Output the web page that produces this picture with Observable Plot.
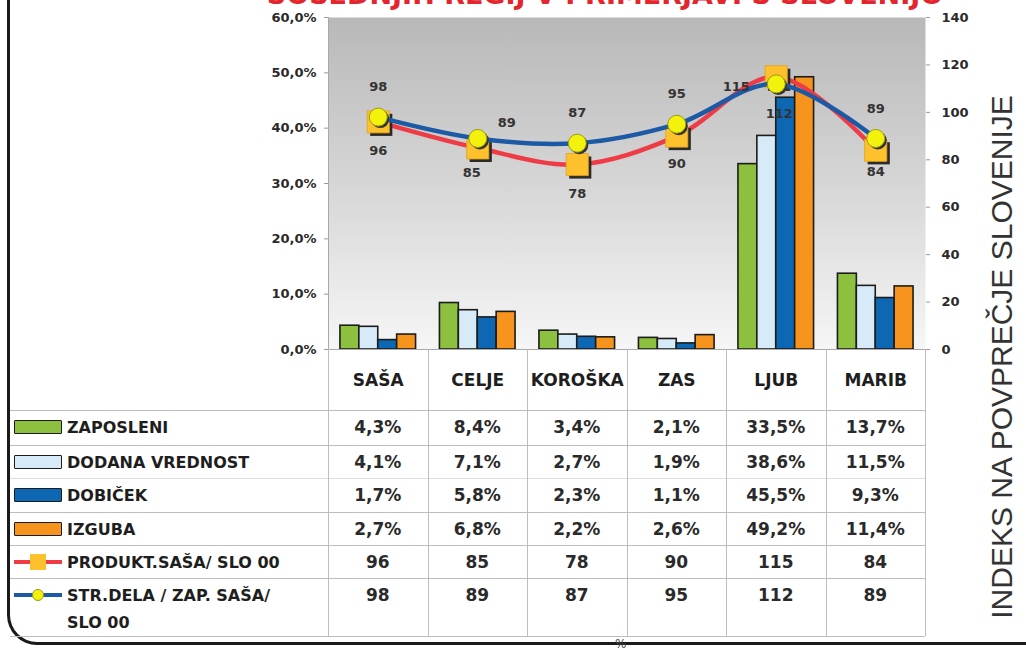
<!DOCTYPE html>
<html>
<head>
<meta charset="utf-8">
<script src="https://cdn.jsdelivr.net/npm/d3@7"></script>
<script src="https://cdn.jsdelivr.net/npm/@observablehq/plot@0.6"></script>
<style>
  html, body { margin: 0; padding: 0; background: #fff; }
  #wrap { position: relative; width: 1026px; height: 650px; overflow: hidden; font-family: "DejaVu Sans", sans-serif; }
  #wrap svg { position: absolute; left: 0; top: 0; }
  .abs { position: absolute; }
  .cell { position: absolute; text-align: center; font-weight: bold; font-size: 17px; color: #2a2a2a; line-height: 22px; white-space: nowrap; }
  .rowlab { position: absolute; font-weight: bold; font-size: 16px; color: #1e1e1e; line-height: 27px; white-space: nowrap; }
  .hline { position: absolute; height: 1px; background: #bdbdbd; }
  .vline { position: absolute; width: 1px; background: #bdbdbd; }
</style>
</head>
<body>
<div id="wrap"></div>
<script>
// ---------- DATA ----------
const categories = ["SAŠA", "CELJE", "KOROŠKA", "ZAS", "LJUB", "MARIB"];
const zaposleni      = [4.3, 8.4, 3.4, 2.1, 33.5, 13.7];
const dodanaVrednost = [4.1, 7.1, 2.7, 1.9, 38.6, 11.5];
const dobicek        = [1.7, 5.8, 2.3, 1.1, 45.5, 9.3];
const izguba         = [2.7, 6.8, 2.2, 2.6, 49.2, 11.4];
const produkt        = [96, 85, 78, 90, 115, 84];
const strDela        = [98, 89, 87, 95, 112, 89];
const leftTicks  = [0, 10, 20, 30, 40, 50, 60];
const rightTicks = [0, 20, 40, 60, 80, 100, 120, 140];
const barNames = ["ZAPOSLENI", "DODANA VREDNOST", "DOBIČEK", "IZGUBA"];
const lineNames = ["PRODUKT.SAŠA/ SLO 00", "STR.DELA / ZAP. SAŠA/|SLO 00"];
const titleText = "SOSEDNJIH REGIJ V PRIMERJAVI S SLOVENIJO";
const rightTitle = "INDEKS NA POVPREČJE SLOVENIJE";

// ---------- STYLES ----------
const barColors = ["#8dc03f", "#d6ebf7", "#0d67b3", "#f7941e"];
const redLine = "#ee3b45", blueLine = "#1d5aa6";
const squareFill = "#fcc12d", circleFill = "#f2f20c";
const font = "DejaVu Sans, sans-serif";

const barSeries = [zaposleni, dodanaVrednost, dobicek, izguba];
const k = 60 / 140; // right (index) axis mapped onto left (%) axis

const barData = [];
barSeries.forEach((vals, s) => vals.forEach((v, i) => barData.push({i, s, v})));
const redData = produkt.map((v, i) => ({i, v}));
const blueData = strDela.map((v, i) => ({i, v}));

const bw = 0.19;
// label placement (dx, dy) per category
const redNudge  = {"SAŠA": [0, 29], "CELJE": [-6, 25], "KOROŠKA": [0, 29], "ZAS": [0, 28], "LJUB": [-40, 10], "MARIB": [0, 22]};
const blueNudge = {"SAŠA": [0, -30], "CELJE": [29, -16], "KOROŠKA": [0, -30], "ZAS": [0, -30], "LJUB": [3, 30], "MARIB": [0, -30]};

const fmtPct = v => v.toFixed(1).replace(".", ",") + "%";

const labelMarks = [];
categories.forEach((c, i) => {
  labelMarks.push(Plot.text([redData[i]], {x: "i", y: d => d.v * k, text: d => String(d.v), dx: redNudge[c][0], dy: redNudge[c][1],
    fontSize: 13, fontWeight: "bold", fill: "#333", fontFamily: font}));
  labelMarks.push(Plot.text([blueData[i]], {x: "i", y: d => d.v * k, text: d => String(d.v), dx: blueNudge[c][0], dy: blueNudge[c][1],
    fontSize: 13, fontWeight: "bold", fill: "#333", fontFamily: font}));
});

const plot = Plot.plot({
  width: 1026,
  height: 650,
  marginLeft: 328,
  marginRight: 101,
  marginTop: 17,
  marginBottom: 301,
  style: {fontFamily: font, background: "transparent", overflow: "visible"},
  x: {domain: [-0.5, 5.5]},
  y: {domain: [0, 60]},
  color: {type: "identity"},
  marks: [
    Plot.frame({fill: "url(#bgGrad)", stroke: null}),
    Plot.ruleX([-0.5], {stroke: "#a8a8a8"}),
    Plot.rectY(barData, {
      x1: d => d.i - 2 * bw + d.s * bw,
      x2: d => d.i - bw + d.s * bw,
      y1: 0, y2: "v",
      fill: d => barColors[d.s],
      stroke: "#1c1c1c", strokeWidth: 1.6
    }),
    Plot.ruleY([0], {stroke: "#a8a8a8"}),
    Plot.line(redData, {x: "i", y: d => d.v * k, stroke: redLine, strokeWidth: 4.5, curve: "catmull-rom"}),
    Plot.dot(redData, {x: "i", y: d => d.v * k, symbol: "square", r: 12.5, fill: "#2a2a2a", dx: 3, dy: 3}),
    Plot.dot(redData, {x: "i", y: d => d.v * k, symbol: "square", r: 12.5, fill: squareFill, stroke: "#e2a21f", strokeWidth: 0.8}),
    Plot.line(blueData, {x: "i", y: d => d.v * k, stroke: blueLine, strokeWidth: 4.5, curve: "catmull-rom"}),
    Plot.dot(blueData, {x: "i", y: d => d.v * k, r: 9, fill: "#333", dx: 2, dy: 2}),
    Plot.dot(blueData, {x: "i", y: d => d.v * k, r: 9, fill: circleFill, stroke: "#9b9b1c", strokeWidth: 1}),
    ...labelMarks,
    Plot.axisY(leftTicks, {anchor: "left", tickFormat: fmtPct, tickSize: 4, tickPadding: 8, stroke: "#9a9a9a",
      fill: "#2a2a2a", fontSize: 13, fontWeight: "bold", fontFamily: font, label: null}),
    Plot.axisY(rightTicks.map(v => v * k), {anchor: "right", tickFormat: d => String(Math.round(d / k)), tickSize: 4, tickPadding: 12,
      stroke: "#9a9a9a", fill: "#2a2a2a", fontSize: 13, fontWeight: "bold", fontFamily: font, label: null}),
    Plot.axisX(d3.range(categories.length), {anchor: "bottom", tickFormat: i => categories[i], tickSize: 0, tickPadding: 24,
      fill: "#1e1e1e", fontSize: 17, fontWeight: "bold", fontFamily: font, label: null})
  ]
});

// gradient background for plot area
const defs = d3.select(plot).insert("defs", ":first-child");
const grad = defs.append("linearGradient").attr("id", "bgGrad").attr("x1", 0).attr("y1", 0).attr("x2", 0).attr("y2", 1);
grad.append("stop").attr("offset", "0%").attr("stop-color", "#b8b8b8");
grad.append("stop").attr("offset", "55%").attr("stop-color", "#d9d9d9");
grad.append("stop").attr("offset", "100%").attr("stop-color", "#f6f6f6");

const wrap = document.getElementById("wrap");

// outer rounded frame
const frameDiv = document.createElement("div");
frameDiv.className = "abs";
Object.assign(frameDiv.style, {left: "7px", top: "-20px", width: "1200px", height: "665px",
  borderLeft: "3px solid #1a1a1a", borderBottom: "3px solid #1a1a1a", borderBottomLeftRadius: "30px", boxSizing: "border-box"});
wrap.appendChild(frameDiv);

wrap.appendChild(plot);

// ---------- DATA TABLE ----------
const xs = plot.scale("x");
const borders = d3.range(categories.length + 1).map(j => xs.apply(j - 0.5));
const rowTops = [410, 445, 478, 512, 545, 578];
const tableBottom = 636;
const headerTop = 349;

function el(cls, styles, text) {
  const d = document.createElement("div");
  d.className = cls;
  Object.assign(d.style, styles);
  if (text != null) d.textContent = text;
  wrap.appendChild(d);
  return d;
}

// horizontal lines
[...rowTops, tableBottom].forEach((y, j) => {
  el("hline", {left: "10px", top: y + "px", width: (borders[borders.length - 1] - 10) + "px", background: j === 2 ? "#dedede" : "#bdbdbd"});
});
// vertical lines
borders.forEach(bx => {
  el("vline", {left: Math.round(bx) + "px", top: headerTop + "px", height: (tableBottom - headerTop) + "px"});
});

const rows = [
  {vals: zaposleni, fmt: fmtPct},
  {vals: dodanaVrednost, fmt: fmtPct},
  {vals: dobicek, fmt: fmtPct},
  {vals: izguba, fmt: fmtPct},
  {vals: produkt, fmt: v => String(v)},
  {vals: strDela, fmt: v => String(v)}
];
const rowLabels = [...barNames, ...lineNames];

rows.forEach((row, r) => {
  const cy = rowTops[r] + 17;
  row.vals.forEach((v, i) => {
    el("cell", {left: borders[i] + "px", width: (borders[i + 1] - borders[i]) + "px", top: (cy - 11) + "px"}, row.fmt(v));
  });
  const parts = rowLabels[r].split("|");
  const lab = el("rowlab", {left: "67px", top: (cy - 13.5) + "px"});
  lab.innerHTML = parts.join("<br>");
  if (r < 4) {
    el("abs", {left: "14px", top: (cy - 7) + "px", width: "48px", height: "14px", background: barColors[r],
      border: "1.6px solid #1c1c1c", boxSizing: "border-box", borderRadius: "1px"});
  } else {
    const lc = r === 4 ? redLine : blueLine;
    el("abs", {left: "14px", top: (cy - 2) + "px", width: "48px", height: "4px", background: lc});
    if (r === 4) {
      el("abs", {left: "30px", top: (cy - 8) + "px", width: "16px", height: "16px", background: squareFill});
    } else {
      el("abs", {left: "32px", top: (cy - 6) + "px", width: "12px", height: "12px", background: circleFill,
        border: "1px solid #9b9b1c", borderRadius: "50%", boxSizing: "border-box"});
    }
  }
});

// titles
el("abs", {left: "0px", width: "1210px", top: "-19px", textAlign: "center", fontWeight: "bold", fontSize: "27px",
  color: "#e3262e", lineHeight: "27px", whiteSpace: "nowrap"}, titleText);
el("abs", {left: (1002 - 300) + "px", top: (357 - 18) + "px", width: "600px", textAlign: "center",
  fontFamily: "Liberation Sans, Arial, sans-serif", fontSize: "30px", lineHeight: "36px", color: "#333",
  transform: "rotate(-90deg)", whiteSpace: "nowrap"}, rightTitle);
el("abs", {left: "615px", top: "637px", fontSize: "12px", color: "#444", lineHeight: "14px"}, "%");
</script>
</body>
</html>
